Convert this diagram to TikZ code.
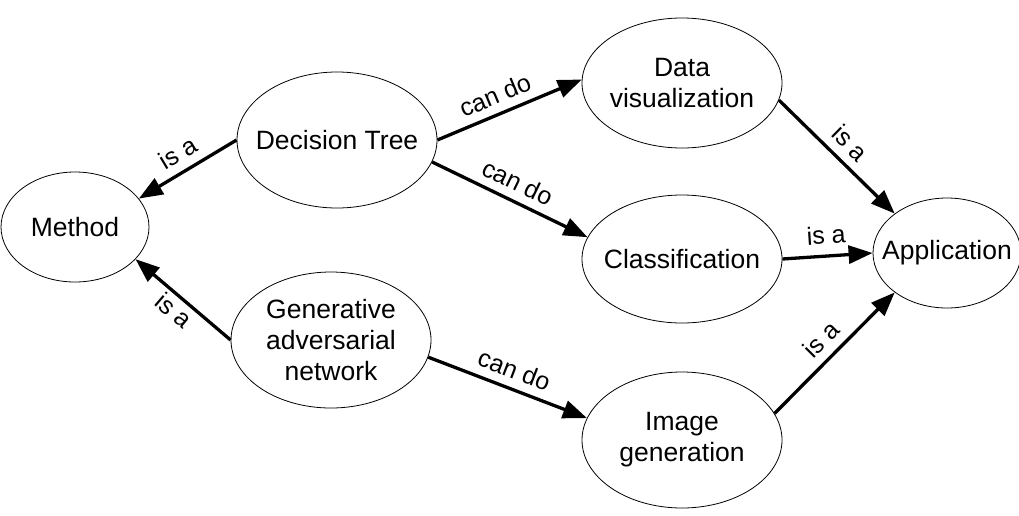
\documentclass[tikz,border=0pt]{standalone}
\usepackage{fontspec}
\setmainfont{Liberation Sans}
\usetikzlibrary{shapes.geometric,arrows.meta}

\begin{document}
\begin{tikzpicture}[x=1pt, y=-1pt,
	concept/.style = {ellipse, draw, line width=0.8pt, align=center, inner xsep=-40pt, inner ysep=0pt, font=\fontsize{26.5}{31}\selectfont},
	rel/.style = {line width=3.3pt, -{Triangle[length=24pt, width=18pt]}},
	tag/.style = {sloped, above=5pt, font=\fontsize{25}{28}\selectfont}]

\useasboundingbox (0,0) rectangle (1019,515);

\node[concept, minimum width=148pt, minimum height=110pt] (method) at (75,227) {Method};
\node[concept, minimum width=200pt, minimum height=136pt] (dt) at (337,140) {Decision Tree};
\node[concept, minimum width=200pt, minimum height=136pt] (gan) at (331,340) {Generative\\adversarial\\network};
\node[concept, minimum width=200pt, minimum height=130pt] (dv) at (682,83) {Data\\visualization};
\node[concept, minimum width=200pt, minimum height=128pt] (cl) at (682,259) {Classification};
\node[concept, minimum width=200pt, minimum height=136pt] (ig) at (682,440) {Image\\generation};
\node[concept, minimum width=148pt, minimum height=110pt] (app) at (947,253) {Application};

\draw[rel] (dt.west) -- node[tag] {is a} (method.24);
\draw[rel] (gan.west) -- node[tag, below=5pt] {is a} (method.-28);
\draw[rel] (dt.east) -- node[tag, pos=0.45] {can do} (dv.178);
\draw[rel] (dt.-13) -- node[tag] {can do} (cl.167);
\draw[rel] (gan.-10) -- node[tag] {can do} (ig.167);
\draw[rel] (dv.-10) -- node[tag] {is a} (app.143);
\draw[rel] (cl.east) -- node[tag, above=2pt] {is a} (app.west);
\draw[rel] (ig.16) -- node[tag] {is a} (app.-143);
\end{tikzpicture}
\end{document}
